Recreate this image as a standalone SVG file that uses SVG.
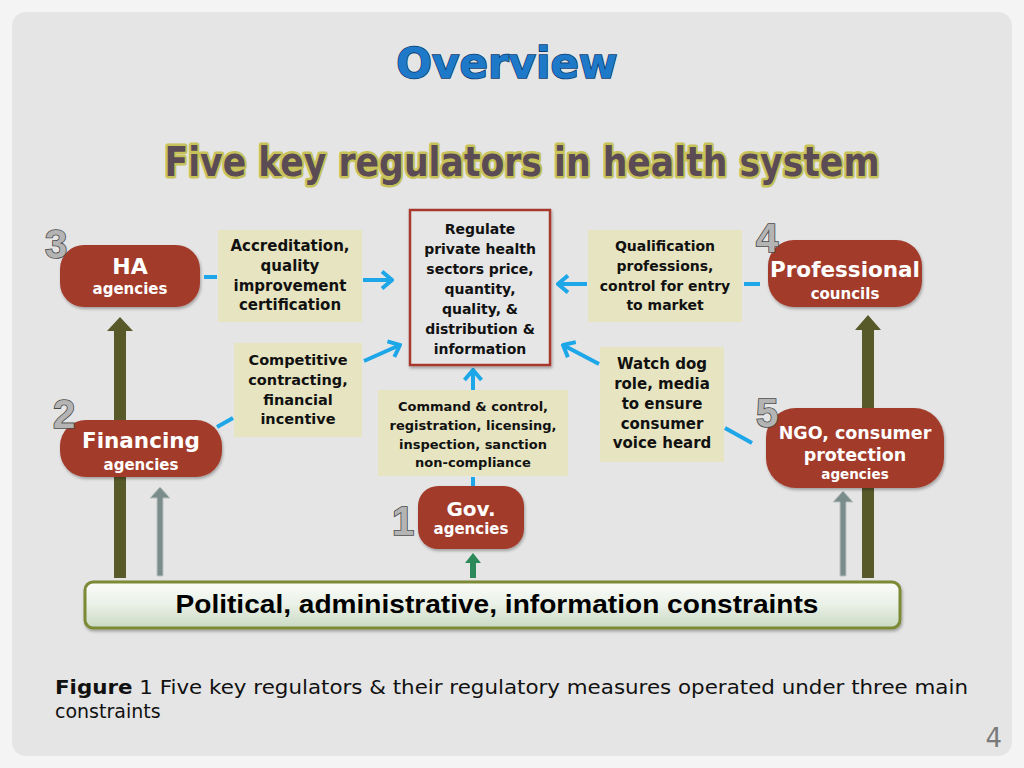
<svg xmlns="http://www.w3.org/2000/svg" width="1024" height="768" viewBox="0 0 1024 768">
<defs>
<style>
.node{fill:#a33b2b}
.box{fill:#e7e5c1}
.bt{font-family:"DejaVu Sans",sans-serif;font-weight:bold;fill:#111;text-anchor:middle}
.nt{font-family:"DejaVu Sans",sans-serif;font-weight:bold;fill:#fff;text-anchor:middle}
.num{font-family:"Liberation Sans",sans-serif;font-weight:bold;font-size:40px;fill:#b4b4b4;stroke:#4a4a4a;stroke-width:1.6;paint-order:stroke;text-anchor:middle}
.blue{stroke:#1ea7e8;stroke-width:4;fill:none}
.olive{fill:#575a28}
.grey{fill:#7b8d8b;stroke:#b9c3c1;stroke-width:1}
</style>
<marker id="chev" viewBox="-14 -11 16 22" refX="0" refY="0" markerWidth="16" markerHeight="22" markerUnits="userSpaceOnUse" orient="auto">
<path d="M-10,-8.5 L0,0 L-10,8.5" fill="none" stroke="#1ea7e8" stroke-width="4"/>
</marker>
<linearGradient id="bar" x1="0" y1="0" x2="0" y2="1">
<stop offset="0" stop-color="#fbfcfa"/>
<stop offset="0.5" stop-color="#e9f0e6"/>
<stop offset="1" stop-color="#c9d9c3"/>
</linearGradient>
<filter id="sh" x="-10%" y="-10%" width="120%" height="130%">
<feDropShadow dx="1" dy="2" stdDeviation="1.5" flood-color="#000" flood-opacity="0.3"/>
</filter>
</defs>
<rect width="1024" height="768" fill="#f4f4f4"/>
<rect x="12" y="12" width="1000" height="744" rx="14" fill="#e5e5e5"/>

<text x="507" y="78" font-family="DejaVu Sans,sans-serif" font-weight="bold" font-size="42" fill="#1f79c9" stroke="#0c3d6e" stroke-width="1.6" paint-order="stroke" text-anchor="middle">Overview</text>
<text x="522" y="176" font-family="DejaVu Sans,sans-serif" font-weight="bold" font-size="40" fill="#5b4b55" stroke="#c7c35a" stroke-width="5" stroke-linejoin="round" paint-order="stroke" text-anchor="middle" textLength="715" lengthAdjust="spacingAndGlyphs">Five key regulators in health system</text>

<g id="constraint-arrows">
<path class="olive" d="M114,578 V331 H107 L120,317 L133,331 H126 V578 Z"/>
<path class="olive" d="M862,578 V330 H855 L868,315 L881,330 H874 V578 Z"/>
<path class="grey" d="M157,576 V498 H150 L160,487 L170,498 H163 V576 Z"/>
<path class="grey" d="M840,576 V502 H833 L843,491 L853,502 H846 V576 Z"/>
<path fill="#2c8a5a" d="M470,578 V563 H465 L473,553 L481,563 H476 V578 Z"/>
</g>

<g id="connectors">
<line class="blue" x1="204" y1="277" x2="217" y2="277"/>
<line class="blue" x1="363" y1="280" x2="392" y2="280" marker-end="url(#chev)"/>
<line class="blue" x1="217" y1="427" x2="233" y2="418"/>
<line class="blue" x1="364" y1="361" x2="400" y2="345" marker-end="url(#chev)"/>
<line class="blue" x1="473" y1="390" x2="473" y2="370" marker-end="url(#chev)"/>
<line class="blue" x1="473" y1="477" x2="473" y2="487"/>
<line class="blue" x1="587" y1="284" x2="558" y2="284" marker-end="url(#chev)"/>
<line class="blue" x1="744" y1="284" x2="760" y2="284"/>
<line class="blue" x1="599" y1="364" x2="563" y2="345" marker-end="url(#chev)"/>
<line class="blue" x1="725" y1="428" x2="752" y2="443"/>
</g>

<g id="center">
<rect x="410" y="210" width="140" height="155" fill="#e6e6e6" stroke="#a6392d" stroke-width="2.5" filter="url(#sh)"/>
<text class="bt" font-size="14"><tspan x="480" y="234">Regulate</tspan><tspan x="480" y="254">private health</tspan><tspan x="480" y="274">sectors price,</tspan><tspan x="480" y="294">quantity,</tspan><tspan x="480" y="314">quality, &amp;</tspan><tspan x="480" y="334">distribution &amp;</tspan><tspan x="480" y="354">information</tspan></text>
</g>

<g id="box-accreditation">
<rect class="box" x="218" y="230" width="144" height="92"/>
<text class="bt" font-size="15"><tspan x="290" y="251">Accreditation,</tspan><tspan x="290" y="271">quality</tspan><tspan x="290" y="291">improvement</tspan><tspan x="290" y="310">certification</tspan></text>
</g>
<g id="box-qualification">
<rect class="box" x="588" y="230" width="154" height="92"/>
<text class="bt" font-size="14"><tspan x="665" y="251">Qualification</tspan><tspan x="665" y="271">professions,</tspan><tspan x="665" y="291">control for entry</tspan><tspan x="665" y="310">to market</tspan></text>
</g>
<g id="box-competitive">
<rect class="box" x="234" y="343" width="128" height="94"/>
<text class="bt" font-size="14.5"><tspan x="298" y="365">Competitive</tspan><tspan x="298" y="385">contracting,</tspan><tspan x="298" y="405">financial</tspan><tspan x="298" y="424">incentive</tspan></text>
</g>
<g id="box-command">
<rect class="box" x="378" y="390" width="190" height="86"/>
<text class="bt" font-size="13"><tspan x="473" y="411">Command &amp; control,</tspan><tspan x="473" y="430">registration, licensing,</tspan><tspan x="473" y="449">inspection, sanction</tspan><tspan x="473" y="467">non-compliance</tspan></text>
</g>
<g id="box-watchdog">
<rect class="box" x="600" y="347" width="124" height="115"/>
<text class="bt" font-size="15"><tspan x="662" y="369">Watch dog</tspan><tspan x="662" y="389">role, media</tspan><tspan x="662" y="409">to ensure</tspan><tspan x="662" y="429">consumer</tspan><tspan x="662" y="448">voice heard</tspan></text>
</g>

<g id="node-ha">
<rect class="node" x="60" y="245" width="140" height="62" rx="24" filter="url(#sh)"/>
<text class="nt" x="130" y="274" font-size="22">HA</text>
<text class="nt" x="130" y="294" font-size="15">agencies</text>
<text class="num" x="56" y="258">3</text>
</g>
<g id="node-professional">
<rect class="node" x="768" y="240" width="154" height="67" rx="26" filter="url(#sh)"/>
<text class="nt" x="845" y="277" font-size="21.5">Professional</text>
<text class="nt" x="845" y="299" font-size="15">councils</text>
<text class="num" x="767" y="252">4</text>
</g>
<g id="node-financing">
<rect class="node" x="60" y="420" width="162" height="57" rx="26" filter="url(#sh)"/>
<text class="nt" x="141" y="448" font-size="21.5">Financing</text>
<text class="nt" x="141" y="470" font-size="15">agencies</text>
<text class="num" x="64" y="428">2</text>
</g>
<g id="node-gov">
<rect class="node" x="418" y="486" width="106" height="63" rx="20" filter="url(#sh)"/>
<text class="nt" x="471" y="516" font-size="20">Gov.</text>
<text class="nt" x="471" y="534" font-size="15">agencies</text>
<text class="num" x="403" y="535">1</text>
</g>
<g id="node-ngo">
<rect class="node" x="766" y="408" width="178" height="80" rx="30" filter="url(#sh)"/>
<text class="nt" x="855" y="439" font-size="17.5">NGO, consumer</text>
<text class="nt" x="855" y="461" font-size="17.5">protection</text>
<text class="nt" x="855" y="479" font-size="13.5">agencies</text>
<text class="num" x="767" y="427">5</text>
</g>

<g id="constraints-bar">
<rect x="85" y="582" width="815" height="46" rx="8" fill="url(#bar)" stroke="#7b8a35" stroke-width="3" filter="url(#sh)"/>
<text x="497" y="613" font-family="Liberation Sans,sans-serif" font-weight="bold" font-size="25" fill="#000" text-anchor="middle" textLength="643" lengthAdjust="spacingAndGlyphs">Political, administrative, information constraints</text>
</g>

<text x="55" y="694" font-family="DejaVu Sans,sans-serif" font-size="19" fill="#111" textLength="913" lengthAdjust="spacingAndGlyphs"><tspan font-weight="bold">Figure</tspan> 1 Five key regulators &amp; their regulatory measures operated under three main</text>
<text x="55" y="718" font-family="DejaVu Sans,sans-serif" font-size="19" fill="#111">constraints</text>
<text x="1002" y="747" font-family="DejaVu Sans,sans-serif" font-size="26" fill="#7a7a7a" text-anchor="end">4</text>
</svg>
